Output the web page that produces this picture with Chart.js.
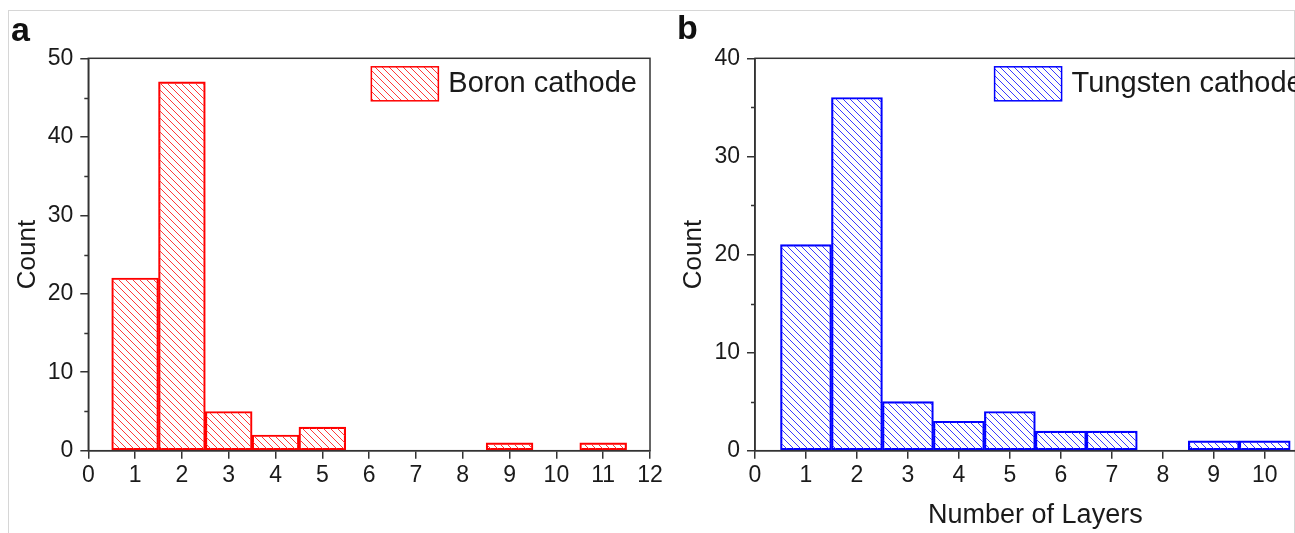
<!DOCTYPE html>
<html>
<head>
<meta charset="utf-8">
<script src="https://cdn.jsdelivr.net/npm/chart.js@4.4.1/dist/chart.umd.min.js"></script>
<style>
  html, body { margin: 0; padding: 0; background: #fff; overflow: hidden; width: 1295px; height: 533px; }
  .frame { position: absolute; left: 8px; top: 10px; width: 1285px; height: 530px; border: 1px solid #d6d6d6; border-bottom: none; }
  canvas { position: absolute; top: 0; }
  #left { left: 0; }
  #right { left: 660px; }
  .tag { position: absolute; font: bold 34px "Liberation Sans", Arial, sans-serif; color: #111; }
</style>
</head>
<body>
<div class="frame"></div>
<canvas id="left" width="670" height="533"></canvas>
<canvas id="right" width="700" height="533"></canvas>
<div class="tag" style="left:11px;top:10px;">a</div>
<div class="tag" style="left:677px;top:8px;">b</div>
<script>
/* global Chart */

const layers = [1, 2, 3, 4, 5, 6, 7, 8, 9, 10, 11];
const boronCounts = [22, 47, 5, 2, 3, 0, 0, 0, 1, 0, 1];
const tungstenCounts = [21, 36, 5, 3, 4, 2, 2, 0, 1, 1, 0];
const minorTicks = [5, 15, 25, 35, 45];

const FONT = '"Liberation Sans", Arial, sans-serif';
const AXIS = '#333';
const TEXT = '#1a1a1a';

function hatch(canvas, color) {
  const tile = document.createElement('canvas');
  tile.width = tile.height = 7;
  const g = tile.getContext('2d');
  g.fillStyle = color;
  for (let i = 0; i < 7; i++) g.fillRect(i, i, 1, 1);
  return canvas.getContext('2d').createPattern(tile, 'repeat');
}

// frame, minor ticks and in-plot legend
const decor = {
  id: 'decor',
  afterDraw(chart) {
    const { ctx, chartArea: a, scales } = chart;
    ctx.save();
    ctx.strokeStyle = AXIS;
    ctx.lineWidth = 1.5;
    ctx.strokeRect(a.left, a.top, a.right - a.left, a.bottom - a.top);
    ctx.beginPath();
    minorTicks.forEach((v) => {
      if (v > scales.y.max) return;
      const y = Math.round(scales.y.getPixelForValue(v)) + 0.5;
      ctx.moveTo(a.left - 4, y);
      ctx.lineTo(a.left, y);
    });
    ctx.stroke();

    const ds = chart.data.datasets[0];
    ctx.font = '29px ' + FONT;
    const w = ctx.measureText(ds.label).width;
    const textRight = a.right - 13;
    const boxRight = textRight - w - 10;
    const bx = boxRight - 67, by = a.top + 8.5;
    ctx.fillStyle = ds.backgroundColor;
    ctx.fillRect(bx, by, 67, 34);
    ctx.strokeStyle = ds.borderColor;
    ctx.lineWidth = 1.5;
    ctx.strokeRect(bx, by, 67, 34);
    ctx.fillStyle = TEXT;
    ctx.textBaseline = 'middle';
    ctx.textAlign = 'left';
    ctx.fillText(ds.label, textRight - w, by + 17);
    ctx.restore();
  }
};

function makeChart(id, label, counts, color, lineColor, opts) {
  const canvas = document.getElementById(id);
  return new Chart(canvas, {
    type: 'bar',
    data: {
      datasets: [{
        label,
        data: layers.map((x, i) => ({ x, y: counts[i] || null })),
        backgroundColor: hatch(canvas, lineColor),
        borderColor: color,
        borderWidth: 1.5,
        borderSkipped: false,
        barPercentage: 1,
        categoryPercentage: 1
      }]
    },
    options: {
      responsive: false,
      animation: false,
      devicePixelRatio: 1,
      layout: { padding: { top: 58.3, right: opts.padRight, bottom: 0, left: 0 } },
      scales: {
        x: {
          type: 'linear',
          offset: false,
          min: 0,
          max: opts.xMax,
          ticks: { stepSize: 1, autoSkip: false, maxRotation: 0, padding: 3, color: TEXT, font: { family: FONT, size: 23 } },
          grid: { offset: false, drawOnChartArea: false, drawTicks: true, tickLength: 8, color: AXIS, lineWidth: 1.5 },
          border: { display: true, color: AXIS, width: 1.5 },
          title: { display: !!opts.xTitle, text: opts.xTitle || '', color: TEXT, font: { family: FONT, size: 27 }, padding: { top: 0, bottom: 1 } },
          afterFit: (s) => { s.height = 82.3; }
        },
        y: {
          min: 0,
          max: opts.yMax,
          ticks: { stepSize: 10, padding: 7, color: TEXT, font: { family: FONT, size: 23 } },
          grid: { drawOnChartArea: false, drawTicks: true, tickLength: 8, color: AXIS, lineWidth: 1.5 },
          border: { display: true, color: AXIS, width: 1.5 },
          title: { display: true, text: 'Count', color: TEXT, font: { family: FONT, size: 26 }, padding: { top: opts.titlePad, bottom: 0 } },
          afterFit: (s) => { s.width = opts.yWidth; }
        }
      },
      plugins: {
        legend: { display: false },
        tooltip: { enabled: false }
      }
    },
    plugins: [decor]
  });
}

makeChart('left', 'Boron cathode', boronCounts, '#ff0000', '#ff3a3a',
  { xMax: 12, yMax: 50, yWidth: 88.3, padRight: 20, titlePad: 12 });
makeChart('right', 'Tungsten cathode', tungstenCounts, '#0000ff', '#3a3aff',
  { xMax: 11, yMax: 40, yWidth: 95, padRight: 44.3, titlePad: 18.4, xTitle: 'Number of Layers' });
</script>
</body>
</html>
